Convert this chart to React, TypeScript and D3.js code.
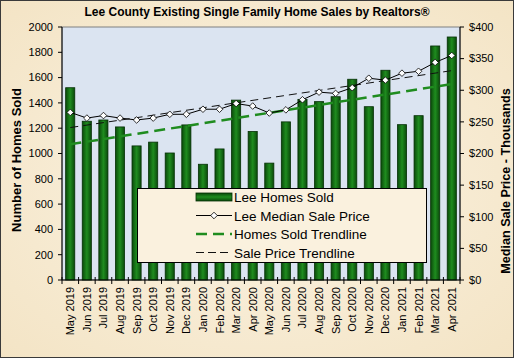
import React from 'react';
import * as d3 from 'd3';

const months = [
  'May 2019', 'Jun 2019', 'Jul 2019', 'Aug 2019', 'Sep 2019', 'Oct 2019', 'Nov 2019', 'Dec 2019',
  'Jan 2020', 'Feb 2020', 'Mar 2020', 'Apr 2020', 'May 2020', 'Jun 2020', 'Jul 2020', 'Aug 2020',
  'Sep 2020', 'Oct 2020', 'Nov 2020', 'Dec 2020', 'Jan 2021', 'Feb 2021', 'Mar 2021', 'Apr 2021',
];
const homesSold = [
  1520, 1255, 1265, 1210, 1060, 1090, 1004, 1226, 915, 1036, 1422, 1174,
  924, 1250, 1428, 1410, 1449, 1587, 1370, 1658, 1228, 1299, 1850, 1921,
];
const medianPrice = [
  265, 256, 260, 256, 253, 256, 262, 262, 270, 270, 279, 275,
  264, 269, 285, 297, 295, 304, 319, 316, 327, 330, 344, 355,
];
// trendline start / end values (first and last month)
const homesTrend = [1073, 1549];
const priceTrend = [241, 331];

const leftTicks = [0, 200, 400, 600, 800, 1000, 1200, 1400, 1600, 1800, 2000];
const rightTicks = [0, 50, 100, 150, 200, 250, 300, 350, 400];

const legendItems = ['Lee Homes Sold', 'Lee Median Sale Price', 'Homes Sold Trendline', 'Sale Price Trendline'];

const W = 514;
const H = 358;
const plot = { left: 62, right: 460, top: 27, bottom: 280 };
const font = 'Arial, "Liberation Sans", sans-serif';

const App: React.FC = () => {
  const x = d3.scaleBand<string>().domain(months).range([plot.left, plot.right]).paddingInner(0.45).paddingOuter(0.22);
  const band = d3.scaleBand<string>().domain(months).range([plot.left, plot.right]);
  const yL = d3.scaleLinear().domain([0, 2000]).range([plot.bottom, plot.top]);
  const yR = d3.scaleLinear().domain([0, 400]).range([plot.bottom, plot.top]);
  const cx = (m: string) => (band(m) || 0) + band.bandwidth() / 2;

  const priceLine = d3.line<number>()
    .x((_, i) => cx(months[i]))
    .y(d => yR(d));

  const first = months[0];
  const last = months[months.length - 1];

  const diamond = (px: number, py: number, r = 3.3) =>
    `M${px},${py - r}L${px + r},${py}L${px},${py + r}L${px - r},${py}Z`;

  return (
    <svg width={W} height={H} style={{ position: 'absolute', left: 0, top: 0 }} fontFamily={font}>
      <defs>
        <radialGradient id="parch" cx="50%" cy="50%" r="75%">
          <stop offset="0%" stopColor="#fbf3e3" />
          <stop offset="100%" stopColor="#f3e3c3" />
        </radialGradient>
        <linearGradient id="barGrad" x1="0" x2="1" y1="0" y2="0">
          <stop offset="0%" stopColor="#0a4a0a" />
          <stop offset="50%" stopColor="#1f8c1f" />
          <stop offset="100%" stopColor="#0a4a0a" />
        </linearGradient>
        <linearGradient id="barGradV" x1="0" x2="0" y1="0" y2="1">
          <stop offset="0%" stopColor="#0a4a0a" />
          <stop offset="50%" stopColor="#1f8c1f" />
          <stop offset="100%" stopColor="#0a4a0a" />
        </linearGradient>
      </defs>

      <rect x={0} y={0} width={W} height={H} fill="url(#parch)" />
      <rect x={0.5} y={0.5} width={W - 1} height={H - 1} fill="none" stroke="#3a3a3a" />

      <text x={W / 2} y={16} textAnchor="middle" fontSize={12} fontWeight="bold">
        Lee County Existing Single Family Home Sales by Realtors®
      </text>

      {/* plot area */}
      <rect x={plot.left} y={plot.top} width={plot.right - plot.left} height={plot.bottom - plot.top}
        fill="#dbe4f1" stroke="#808080" strokeWidth={1} />

      {/* bars */}
      {months.map((m, i) => (
        <rect key={m} x={x(m)} y={yL(homesSold[i])} width={x.bandwidth()}
          height={plot.bottom - yL(homesSold[i])}
          fill="url(#barGrad)" stroke="#063006" strokeWidth={0.8} />
      ))}

      {/* trendlines */}
      <line x1={cx(first)} x2={cx(last)} y1={yL(homesTrend[0])} y2={yL(homesTrend[1])}
        stroke="#1f8c1f" strokeWidth={2.5} strokeDasharray="11,6" />
      <line x1={cx(first)} x2={cx(last)} y1={yR(priceTrend[0])} y2={yR(priceTrend[1])}
        stroke="#111" strokeWidth={1} strokeDasharray="8,5" />

      {/* price line */}
      <path d={priceLine(medianPrice) || ''} fill="none" stroke="#000" strokeWidth={1} />
      {medianPrice.map((v, i) => (
        <path key={i} d={diamond(cx(months[i]), yR(v))} fill="#fff" stroke="#000" strokeWidth={0.8} />
      ))}

      {/* axes lines */}
      <line x1={plot.left} x2={plot.left} y1={plot.top} y2={plot.bottom} stroke="#000" />
      <line x1={plot.right} x2={plot.right} y1={plot.top} y2={plot.bottom} stroke="#000" />
      <line x1={plot.left} x2={plot.right} y1={plot.bottom} y2={plot.bottom} stroke="#000" />

      {leftTicks.map(t => (
        <g key={t} transform={`translate(${plot.left},${yL(t)})`}>
          <line x1={-4} x2={0} stroke="#000" />
          <text x={-9} dy="0.35em" textAnchor="end" fontSize={11}>{t}</text>
        </g>
      ))}
      {rightTicks.map(t => (
        <g key={t} transform={`translate(${plot.right},${yR(t)})`}>
          <line x1={0} x2={4} stroke="#000" />
          <text x={9} dy="0.35em" textAnchor="start" fontSize={11}>${t}</text>
        </g>
      ))}
      {[...months.map(m => band(m) || 0), plot.right].map((bx, i) => (
        <line key={i} x1={bx} x2={bx} y1={plot.bottom - 3} y2={plot.bottom + 4} stroke="#000" />
      ))}
      {months.map(m => (
        <text key={m} transform={`translate(${cx(m) + 4},${plot.bottom + 7}) rotate(-90)`}
          textAnchor="end" fontSize={11}>{m}</text>
      ))}

      {/* axis titles */}
      <text transform={`translate(21,160) rotate(-90)`} textAnchor="middle" fontSize={13} fontWeight="bold">
        Number of Homes Sold
      </text>
      <text transform={`translate(510,181) rotate(-90)`} textAnchor="middle" fontSize={12.6} fontWeight="bold">
        Median Sale Price - Thousands
      </text>

      {/* legend */}
      <g transform="translate(137,188)">
        <rect x={0.5} y={0.5} width={289} height={74} fill="#faf1de" stroke="#000" />
        {legendItems.map((label, i) => {
          const ly = 9 + i * 18.5;
          return (
            <g key={label} transform={`translate(0,${ly})`}>
              {i === 0 && (
                <rect x={59} y={-4} width={36} height={8} fill="url(#barGradV)" stroke="#063006" strokeWidth={0.8} />
              )}
              {i === 1 && (
                <g>
                  <line x1={59} x2={95} stroke="#000" />
                  <path d={diamond(77, 0)} fill="#fff" stroke="#000" strokeWidth={0.8} />
                </g>
              )}
              {i === 2 && (
                <line x1={59} x2={95} stroke="#1f8c1f" strokeWidth={2.5} strokeDasharray="11,6" />
              )}
              {i === 3 && (
                <line x1={59} x2={95} stroke="#111" strokeWidth={1} strokeDasharray="8,4" />
              )}
              <text x={97} dy="0.38em" fontSize={13.5}>{label}</text>
            </g>
          );
        })}
      </g>
    </svg>
  );
};

export default App;
